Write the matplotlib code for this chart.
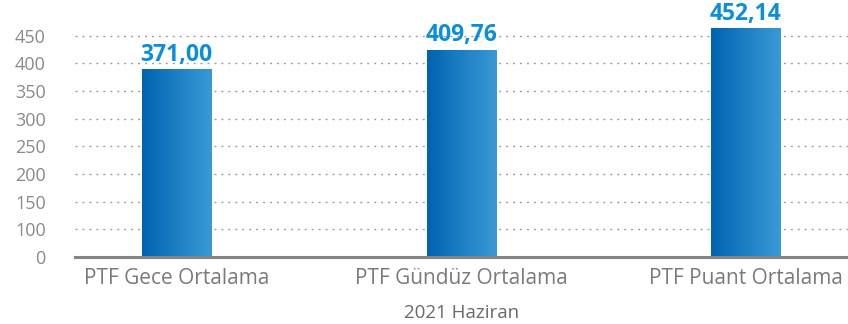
import numpy as np
import matplotlib.pyplot as plt
from matplotlib.colors import LinearSegmentedColormap

# PTF averages, June 2021
categories = ['PTF Gece Ortalama', 'PTF Gündüz Ortalama', 'PTF Puant Ortalama']
values = [371.00, 409.76, 452.14]
value_labels = ['371,00', '409,76', '452,14']
tick_labels = ['0', '100', '150', '200', '250', '300', '350', '400', '450']
xlabel = '2021 Haziran'

plt.rcParams['font.family'] = ['Open Sans', 'DejaVu Sans']

fig = plt.figure(figsize=(8.48, 3.24), dpi=100)
ax = fig.add_axes([75/848, 67/324, 1 - 75/848, 247/324])

x = np.arange(len(categories))
bars = ax.bar(x, values, width=0.243, color='none', zorder=3)

# horizontal dark->light blue fill on each bar
cmap = LinearSegmentedColormap.from_list('barblue', ['#0063b0', '#3a9ad6'])
grad = np.linspace(0, 1, 256).reshape(1, -1)
for b in bars:
    ax.imshow(grad, cmap=cmap, aspect='auto', zorder=3,
              extent=[b.get_x(), b.get_x() + b.get_width(), 0, b.get_height()])

for xi, v, lab in zip(x, values, value_labels):
    ax.annotate(lab, (xi, v), xytext=(0, 6.5), textcoords='offset points',
                ha='center', va='baseline', fontsize=16.5, fontweight='bold',
                color='#0b8fdb', zorder=4)

ax.set_xlim(-0.357, 2.36)
ax.set_ylim(0, 489)
ax.set_yticks(np.arange(len(tick_labels)) * 54.8)
ax.set_yticklabels(tick_labels)
ax.set_xticks(x)
ax.set_xticklabels(categories)

ax.tick_params(axis='y', length=0, pad=21, labelsize=13, labelcolor='#8a8a8a')
ax.tick_params(axis='x', length=0, pad=8, labelsize=15, labelcolor='#7a7a7a')
ax.set_xlabel(xlabel, fontsize=13.5, color='#6a6a6a', labelpad=11)

ax.grid(axis='y', color='#a0a0a0', linewidth=1.0, linestyle=(0, (1.5, 3.5)), zorder=1)
for s in ['top', 'right', 'left']:
    ax.spines[s].set_visible(False)
ax.spines['bottom'].set_color('#858585')
ax.spines['bottom'].set_linewidth(2.2)
ax.spines['bottom'].set_zorder(5)

fig.savefig('out.png', dpi=100)
